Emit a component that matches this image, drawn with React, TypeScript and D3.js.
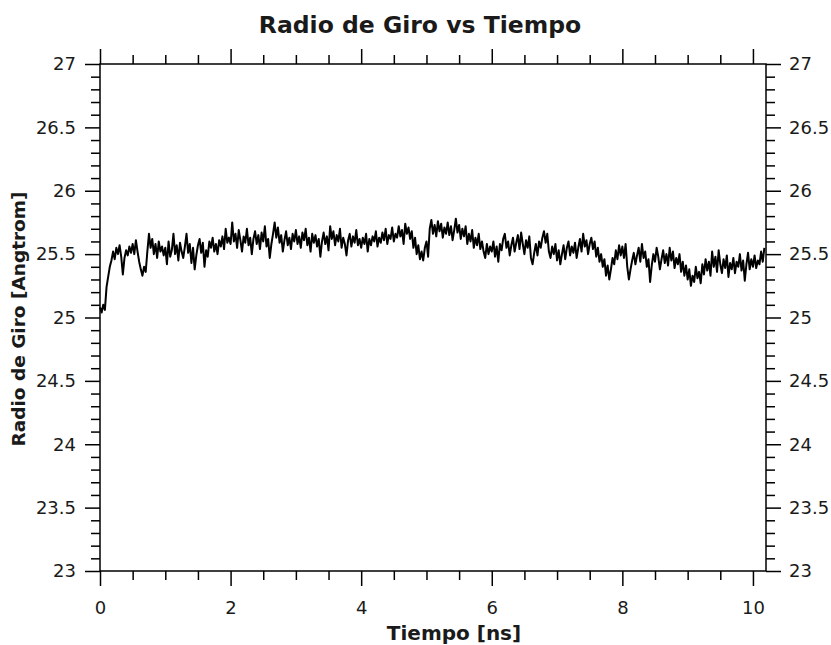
import React, { useEffect, useRef } from "react";
import * as d3 from "d3";

const TIME_STEP = 0.025; // ns between samples
const rg0 = [25.08,25.04,25.10,25.06,25.24,25.32,25.40,25.45,25.52,25.46,25.55,25.50,25.57,25.48,25.34,25.47,25.53,25.49,25.56,25.51,25.58,25.50,25.61,25.52,25.44,25.38,25.33,25.40,25.36,25.52,25.66,25.55,25.62,25.50,25.58,25.47,25.60,25.52,25.56,25.49];
const rg1 = [25.55,25.42,25.60,25.48,25.53,25.66,25.50,25.57,25.45,25.59,25.52,25.47,25.56,25.66,25.51,25.58,25.43,25.55,25.38,25.49,25.57,25.62,25.51,25.59,25.40,25.53,25.48,25.60,25.55,25.63,25.52,25.58,25.50,25.61,25.56,25.64,25.54,25.70,25.59,25.63];
const rg2 = [25.58,25.75,25.60,25.66,25.55,25.69,25.61,25.52,25.64,25.59,25.70,25.57,25.63,25.50,25.62,25.68,25.58,25.65,25.54,25.67,25.60,25.72,25.56,25.62,25.47,25.58,25.66,25.75,25.63,25.71,25.59,25.65,25.52,25.61,25.68,25.57,25.63,25.54,25.66,25.60];
const rg3 = [25.69,25.58,25.64,25.55,25.67,25.61,25.70,25.57,25.63,25.52,25.66,25.59,25.65,25.56,25.62,25.48,25.60,25.67,25.58,25.64,25.53,25.72,25.62,25.68,25.57,25.65,25.60,25.70,25.55,25.63,25.58,25.49,25.61,25.66,25.56,25.64,25.59,25.69,25.57,25.62];
const rg4 = [25.55,25.63,25.58,25.66,25.52,25.62,25.57,25.64,25.60,25.68,25.56,25.63,25.59,25.67,25.61,25.70,25.58,25.65,25.62,25.71,25.60,25.66,25.63,25.72,25.64,25.69,25.58,25.74,25.66,25.71,25.62,25.68,25.55,25.63,25.50,25.57,25.46,25.52,25.45,25.55];
const rg5 = [25.60,25.48,25.70,25.77,25.66,25.73,25.64,25.76,25.68,25.74,25.63,25.71,25.66,25.75,25.65,25.72,25.61,25.69,25.78,25.67,25.73,25.62,25.70,25.64,25.72,25.58,25.66,25.60,25.69,25.55,25.63,25.57,25.66,25.54,25.60,25.52,25.47,25.58,25.50,25.56];
const rg6 = [25.52,25.60,25.48,25.56,25.44,25.58,25.53,25.62,25.66,25.55,25.60,25.49,25.57,25.63,25.52,25.59,25.65,25.54,25.67,25.58,25.50,25.61,25.55,25.64,25.47,25.42,25.51,25.58,25.49,25.60,25.55,25.63,25.68,25.59,25.66,25.52,25.47,25.56,25.50,25.58];
const rg7 = [25.45,25.53,25.42,25.50,25.57,25.46,25.55,25.60,25.49,25.56,25.51,25.59,25.47,25.55,25.62,25.52,25.66,25.56,25.61,25.50,25.58,25.63,25.54,25.60,25.48,25.55,25.44,25.50,25.40,25.46,25.33,25.41,25.30,25.38,25.47,25.42,25.53,25.46,25.57,25.49];
const rg8 = [25.56,25.47,25.58,25.40,25.30,25.38,25.45,25.51,25.42,25.49,25.55,25.44,25.58,25.47,25.52,25.40,25.46,25.28,25.41,25.50,25.44,25.55,25.48,25.38,25.46,25.53,25.43,25.50,25.41,25.55,25.45,25.52,25.39,25.47,25.42,25.50,25.36,25.44,25.33,25.41];
const rg9 = [25.30,25.38,25.25,25.33,25.28,25.40,25.31,25.36,25.27,25.42,25.34,25.46,25.37,25.44,25.33,25.52,25.40,25.48,25.36,25.53,25.42,25.35,25.46,25.39,25.49,25.32,25.43,25.38,25.47,25.35,25.44,25.40,25.50,25.37,25.45,25.29,25.42,25.51,25.38,25.46];
const rg10 = [25.40,25.49,25.39,25.45,25.42,25.52,25.44,25.55];

const xMajorTicks = [0, 2, 4, 6, 8, 10];
const yMajorTicks = [23, 23.5, 24, 24.5, 25, 25.5, 26, 26.5, 27];

const TITLE = "Radio de Giro vs Tiempo";
const X_LABEL = "Tiempo [ns]";
const Y_LABEL = "Radio de Giro [Angtrom]";

const W = 831;
const H = 645;
const M = { left: 100, right: 65, top: 64, bottom: 74 };

export default function App() {
  const ref = useRef<SVGSVGElement>(null);

  useEffect(() => {
    const svg = d3.select(ref.current);
    svg.selectAll("*").remove();
    const values = [...rg0, ...rg1, ...rg2, ...rg3, ...rg4, ...rg5, ...rg6, ...rg7, ...rg8, ...rg9, ...rg10];
    const data = values.map((v, i) => ({ t: i * TIME_STEP, v }));

    const x = d3.scaleLinear().domain([0, 10.2]).range([M.left, W - M.right]);
    const y = d3.scaleLinear().domain([23, 27]).range([H - M.bottom, M.top]);

    const font = "DejaVu Sans, sans-serif";
    const xMinor = d3.range(0, 10.2001, 0.5).filter((d) => !xMajorTicks.includes(d));
    const yMinor = d3.range(23, 27.0001, 0.1).map((d) => Math.round(d * 10) / 10).filter((d) => !yMajorTicks.includes(d));

    const style = (g: any, labels: boolean) => {
      g.select(".domain").remove();
      g.selectAll("line").attr("stroke", "#000").attr("stroke-width", 1.5);
      g.selectAll("text").attr("font-family", font).attr("font-size", 18).attr("fill", "#1a1a1a");
      if (!labels) g.selectAll("text").remove();
    };

    const y0 = y(23), y1 = y(27);
    const x0 = x(0), x1 = x(10.2);

    // bottom
    svg.append("g").attr("transform", `translate(0,${y0})`)
      .call(d3.axisBottom(x).tickValues(xMajorTicks).tickSize(15).tickPadding(15).tickFormat(d3.format("d")))
      .call((g: any) => style(g, true));
    svg.append("g").attr("transform", `translate(0,${y0})`)
      .call(d3.axisBottom(x).tickValues(xMinor).tickSize(9))
      .call((g: any) => style(g, false));
    // top
    svg.append("g").attr("transform", `translate(0,${y1})`)
      .call(d3.axisTop(x).tickValues(xMajorTicks).tickSize(15))
      .call((g: any) => style(g, false));
    svg.append("g").attr("transform", `translate(0,${y1})`)
      .call(d3.axisTop(x).tickValues(xMinor).tickSize(9))
      .call((g: any) => style(g, false));
    // left
    const yFmt = (d: any) => String(d);
    svg.append("g").attr("transform", `translate(${x0},0)`)
      .call(d3.axisLeft(y).tickValues(yMajorTicks).tickSize(15).tickPadding(9).tickFormat(yFmt))
      .call((g: any) => style(g, true));
    svg.append("g").attr("transform", `translate(${x0},0)`)
      .call(d3.axisLeft(y).tickValues(yMinor).tickSize(9))
      .call((g: any) => style(g, false));
    // right
    svg.append("g").attr("transform", `translate(${x1},0)`)
      .call(d3.axisRight(y).tickValues(yMajorTicks).tickSize(15).tickPadding(8).tickFormat(yFmt))
      .call((g: any) => style(g, true));
    svg.append("g").attr("transform", `translate(${x1},0)`)
      .call(d3.axisRight(y).tickValues(yMinor).tickSize(9))
      .call((g: any) => style(g, false));

    // frame
    svg.append("rect").attr("x", x0).attr("y", y1).attr("width", x1 - x0).attr("height", y0 - y1)
      .attr("fill", "none").attr("stroke", "#000").attr("stroke-width", 1.5);

    // line
    const line = d3.line<{ t: number; v: number }>().x((d) => x(d.t)).y((d) => y(d.v));
    svg.append("path").datum(data).attr("d", line).attr("fill", "none")
      .attr("stroke", "#000").attr("stroke-width", 2).attr("stroke-linejoin", "round");

    // title & labels
    svg.append("text").attr("x", 420).attr("y", 33).attr("text-anchor", "middle")
      .attr("font-family", font).attr("font-weight", "bold").attr("font-size", 23.5).attr("fill", "#1a1a1a").text(TITLE);
    svg.append("text").attr("x", 454).attr("y", 640).attr("text-anchor", "middle")
      .attr("font-family", font).attr("font-weight", "bold").attr("font-size", 20).attr("fill", "#1a1a1a").text(X_LABEL);
    svg.append("text").attr("transform", `translate(25,${319}) rotate(-90)`).attr("text-anchor", "middle")
      .attr("font-family", font).attr("font-weight", "bold").attr("font-size", 18.5).attr("fill", "#1a1a1a").text(Y_LABEL);
  }, []);

  return (
    <svg ref={ref} width={W} height={H} style={{ position: "absolute", left: 0, top: 0, background: "#fff" }} />
  );
}
